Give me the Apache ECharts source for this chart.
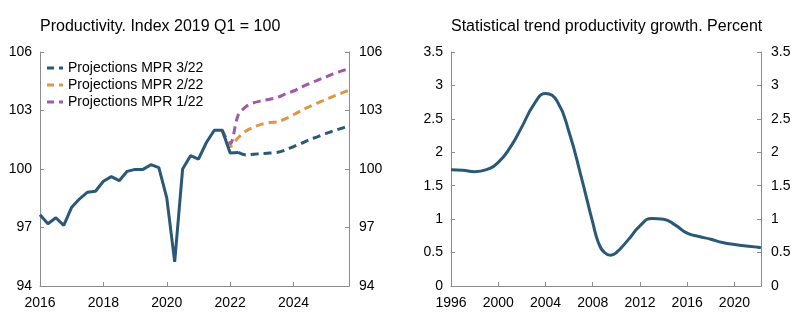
<!DOCTYPE html>
<html>
<head>
<meta charset="utf-8">
<script src="https://cdn.jsdelivr.net/npm/echarts@6/dist/echarts.min.js"></script>
<style>
  html, body { margin: 0; padding: 0; background: #fff; }
  #chart { width: 797px; height: 332px; }
</style>
</head>
<body>
<div id="chart"></div>
<script>
// Left panel: quarterly productivity index, 2019 Q1 = 100
const quarters = [];
for (let y = 2016; y <= 2025; y++) for (let q = 1; q <= 4; q++) quarters.push(y + 'Q' + q);

const histQuarters = ['2016Q1','2016Q2','2016Q3','2016Q4','2017Q1','2017Q2','2017Q3','2017Q4',
  '2018Q1','2018Q2','2018Q3','2018Q4','2019Q1','2019Q2','2019Q3','2019Q4',
  '2020Q1','2020Q2','2020Q3','2020Q4','2021Q1','2021Q2','2021Q3','2021Q4',
  '2022Q1','2022Q2'];
const histValues = [97.65, 97.19, 97.5, 97.11, 98.04, 98.47, 98.81, 98.86,
  99.37, 99.61, 99.4, 99.88, 99.98, 99.98, 100.22, 100.07,
  98.52, 95.24, 100.0, 100.68, 100.51, 101.36, 101.99, 101.99,
  100.82, 100.85];

const mpr322Start = '2022Q2';
const mpr322Values = [100.85, 100.72, 100.76, 100.79, 100.82, 100.86, 100.98,
  101.15, 101.32, 101.5, 101.65, 101.8, 101.95, 102.08, 102.2];

const mpr222Start = '2021Q4';
const mpr222Values = [101.99, 101.15, 101.6, 101.95, 102.15, 102.3, 102.38, 102.42, 102.58,
  102.78, 103.0, 103.2, 103.38, 103.55, 103.72, 103.88, 104.05];

const mpr122Start = '2021Q4';
const mpr122Values = [101.99, 101.3, 102.75, 103.2, 103.4, 103.5, 103.58, 103.68, 103.85,
  104.0, 104.2, 104.38, 104.55, 104.7, 104.88, 105.02, 105.15];

const leftTicks = [94, 97, 100, 103, 106];

// Right panel: statistical trend productivity growth, percent
const trendYears = [1996, 1997, 1998, 1999, 2000, 2001, 2002, 2003, 2004, 2005, 2006, 2007,
  2008, 2008.5, 2009, 2009.5, 2010, 2011, 2012, 2013, 2014, 2015, 2016, 2017, 2018, 2019,
  2020, 2021, 2022, 2022.25];
const trendValues = [1.74, 1.73, 1.71, 1.74, 1.85, 2.07, 2.38, 2.71, 2.88, 2.76, 2.3, 1.65,
  0.95, 0.64, 0.5, 0.46, 0.5, 0.69, 0.9, 1.01, 1.0, 0.91, 0.79, 0.74, 0.7, 0.65,
  0.62, 0.6, 0.58, 0.57];

const rightTicks = [0, 0.5, 1, 1.5, 2, 2.5, 3, 3.5];

const BLUE = '#2a5878';
const ORANGE = '#df9741';
const PURPLE = '#a05aa5';
const AXIS = '#8c8c8c';
const FONT = "'Liberation Sans', Arial, sans-serif";

// long dash + short dash legend marker
const DASH_ICON = 'path://M0,0H7V3H0ZM12,0H16V3H12Z';

function alignTo(startQ, values) {
  const out = quarters.map(() => null);
  const s = quarters.indexOf(startQ);
  values.forEach((v, i) => { out[s + i] = v; });
  return out;
}
const histSeries = alignTo(histQuarters[0], histValues);

const axisLine = { show: true, lineStyle: { color: AXIS, width: 1 } };
const axisTick = { show: true, inside: true, length: 4, lineStyle: { color: AXIS } };
const labelStyle = { color: '#000', fontSize: 14, fontFamily: FONT };

function yAxisDef(grid, pos, ticks) {
  return {
    type: 'value', gridIndex: grid, position: pos,
    min: ticks[0], max: ticks[ticks.length - 1], interval: ticks[1] - ticks[0],
    axisLine: axisLine, axisTick: axisTick, splitLine: { show: false },
    axisLabel: Object.assign({ margin: pos === 'left' ? 8 : 10 }, labelStyle)
  };
}

const dashed = (color) => ({ color: color, width: 3, type: [8, 5] });
const titleStyle = { fontSize: 16, fontWeight: 'normal', color: '#000', fontFamily: FONT };

const option = {
  animation: false,
  textStyle: { fontFamily: FONT },
  title: [
    { text: 'Productivity. Index 2019 Q1 = 100', left: 40, top: 19, padding: 0, textStyle: titleStyle },
    { text: 'Statistical trend productivity growth. Percent', left: 451, top: 19, padding: 0, textStyle: titleStyle }
  ],
  legend: {
    left: 47, top: 59.5, padding: 0, orient: 'vertical', itemWidth: 16, itemHeight: 3, itemGap: 0,
    icon: DASH_ICON,
    textStyle: { fontSize: 14, lineHeight: 17, color: '#000', fontFamily: FONT },
    data: ['Projections MPR 3/22', 'Projections MPR 2/22', 'Projections MPR 1/22']
  },
  grid: [
    { left: 40, top: 52, width: 309, height: 234 },
    { left: 451, top: 52, width: 310, height: 234 }
  ],
  xAxis: [
    { type: 'category', gridIndex: 0, data: quarters, boundaryGap: false,
      axisLine: axisLine,
      axisTick: Object.assign({ interval: 7 }, axisTick),
      axisLabel: Object.assign({ interval: 7, margin: 10, formatter: (v) => v.slice(0, 4) }, labelStyle),
      splitLine: { show: false } },
    { type: 'value', gridIndex: 1, min: 1996, max: 2022.25, interval: 4,
      axisLine: axisLine, axisTick: axisTick, splitLine: { show: false },
      axisLabel: Object.assign({ margin: 10, showMaxLabel: false,
        formatter: (v) => (v % 4 === 0 ? String(v) : '') }, labelStyle) }
  ],
  yAxis: [
    yAxisDef(0, 'left', leftTicks),
    yAxisDef(0, 'right', leftTicks),
    yAxisDef(1, 'left', rightTicks),
    yAxisDef(1, 'right', rightTicks)
  ],
  series: [
    { name: 'Productivity', type: 'line', xAxisIndex: 0, yAxisIndex: 0, data: histSeries,
      symbol: 'none', lineStyle: { color: BLUE, width: 3 }, itemStyle: { color: BLUE }, z: 5 },
    { name: 'Projections MPR 3/22', type: 'line', xAxisIndex: 0, yAxisIndex: 0,
      data: alignTo(mpr322Start, mpr322Values), symbol: 'none', smooth: 0.3,
      lineStyle: dashed(BLUE), itemStyle: { color: BLUE }, z: 4 },
    { name: 'Projections MPR 2/22', type: 'line', xAxisIndex: 0, yAxisIndex: 0,
      data: alignTo(mpr222Start, mpr222Values), symbol: 'none', smooth: 0.3,
      lineStyle: dashed(ORANGE), itemStyle: { color: ORANGE }, z: 3 },
    { name: 'Projections MPR 1/22', type: 'line', xAxisIndex: 0, yAxisIndex: 0,
      data: alignTo(mpr122Start, mpr122Values), symbol: 'none', smooth: 0.3,
      lineStyle: dashed(PURPLE), itemStyle: { color: PURPLE }, z: 2 },
    { name: 'Trend productivity growth', type: 'line', xAxisIndex: 1, yAxisIndex: 2,
      data: trendYears.map((y, i) => [y, trendValues[i]]), symbol: 'none', smooth: 0.5,
      lineStyle: { color: BLUE, width: 3 }, itemStyle: { color: BLUE } }
  ]
};

echarts.init(document.getElementById('chart'), null, { renderer: 'canvas' }).setOption(option);
</script>
</body>
</html>
